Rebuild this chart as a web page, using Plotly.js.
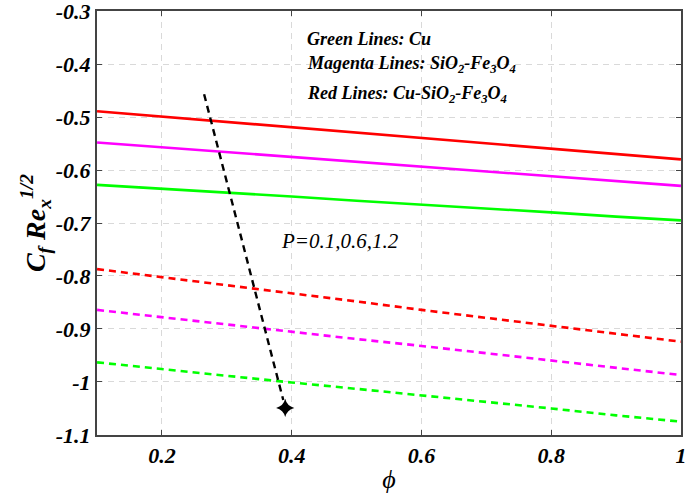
<!DOCTYPE html>
<html><head><meta charset="utf-8">
<script src="https://cdn.plot.ly/plotly-3.0.1.min.js"></script>
<style>html,body{margin:0;padding:0;background:#fff}#chart{width:685px;height:495px}</style>
</head><body><div id="chart"></div>
<script>
const phi = [0.1, 0.2, 0.3, 0.4, 0.5, 0.6, 0.7, 0.8, 0.9, 1.0];
// Solid lines (lowest P)
const redSolid     = [-0.489, -0.499, -0.509, -0.519, -0.529, -0.539, -0.549, -0.559, -0.569, -0.580];
const magentaSolid = [-0.548, -0.557, -0.566, -0.575, -0.584, -0.593, -0.602, -0.611, -0.620, -0.630];
const greenSolid   = [-0.628, -0.635, -0.643, -0.650, -0.658, -0.665, -0.673, -0.680, -0.688, -0.695];
// Dashed lines (higher P)
const redDashed     = [-0.787, -0.802, -0.818, -0.833, -0.848, -0.864, -0.879, -0.894, -0.909, -0.924];
const magentaDashed = [-0.864, -0.878, -0.891, -0.905, -0.919, -0.932, -0.946, -0.960, -0.973, -0.987];
const greenDashed   = [-0.963, -0.976, -0.988, -1.001, -1.013, -1.025, -1.038, -1.050, -1.063, -1.075];
// Trend arrow for P
const arrowX = [0.265, 0.387];
const arrowY = [-0.457, -1.034];
const arrowHeadX = [0.39];
const arrowHeadY = [-1.049];
const xTicks = [0.2, 0.4, 0.6, 0.8, 1];
const xTickText = ['0.2', '0.4', '0.6', '0.8', '1'];
const yTicks = [-1.1, -1, -0.9, -0.8, -0.7, -0.6, -0.5, -0.4, -0.3];
const yTickText = ['-1.1', '-1', '-0.9', '-0.8', '-0.7', '-0.6', '-0.5', '-0.4', '-0.3'];

const serif = "'Liberation Serif', 'Times New Roman', serif";
function line(y, color, dash) {
  return {x: phi, y: y, mode: 'lines', line: {color: color, width: 2.6, dash: dash}, hoverinfo: 'skip', showlegend: false};
}
const traces = [
  line(redSolid, '#ff0000', 'solid'),
  line(magentaSolid, '#ff00ff', 'solid'),
  line(greenSolid, '#00ff00', 'solid'),
  line(redDashed, '#ff0000', '7px,5px'),
  line(magentaDashed, '#ff00ff', '7px,5px'),
  line(greenDashed, '#00ff00', '7px,5px'),
  {x: arrowX, y: arrowY, mode: 'lines', line: {color: '#000', width: 2.4, dash: '7px,5px'}, showlegend: false},
  {x: arrowHeadX, y: arrowHeadY, mode: 'markers', marker: {symbol: 'star-diamond', size: 13, color: '#000'}, showlegend: false}
];
const bi = s => '<b><i>' + s + '</i></b>';
const tickFont = {family: serif, size: 22, color: '#000', weight: 'bold', style: 'italic'};
const layout = {
  width: 685, height: 495,
  font: {family: serif},
  margin: {l: 97, r: 4, t: 11, b: 60},
  paper_bgcolor: '#fff', plot_bgcolor: '#fff',
  xaxis: {
    range: [0.0999, 1.0001], tickvals: xTicks, ticktext: xTickText.map(bi),
    ticklabeloverflow: 'allow',
    showline: true, mirror: 'ticks', linecolor: '#444', linewidth: 2,
    ticks: 'inside', ticklen: 5, tickcolor: '#444',
    showgrid: true, gridcolor: '#d9d9d9', griddash: '6px,5px', gridwidth: 1,
    zeroline: false, tickfont: tickFont,
    title: {text: '<i>ϕ</i>', font: {family: serif, size: 26, color: '#000'}, standoff: 2}
  },
  yaxis: {
    range: [-1.1001, -0.2999], tickvals: yTicks, ticktext: yTickText.map(bi),
    ticklabeloverflow: 'allow',
    showline: true, mirror: 'ticks', linecolor: '#444', linewidth: 2,
    ticks: 'inside', ticklen: 5, tickcolor: '#444',
    showgrid: true, gridcolor: '#d9d9d9', griddash: '6px,5px', gridwidth: 1,
    zeroline: false, tickfont: tickFont,
    title: {text: '<b><i>C<sub>f</sub> Re<sub>x</sub><sup>1/2</sup></i></b>', font: {family: serif, size: 28, color: '#000'}, standoff: 2}
  },
  annotations: [
    {xref: 'paper', yref: 'paper', x: 0.357, y: 0.933, xanchor: 'left', yanchor: 'middle', showarrow: false,
     text: bi('Green Lines: Cu'), font: {family: serif, size: 18, color: '#000'}},
    {xref: 'paper', yref: 'paper', x: 0.357, y: 0.874, xanchor: 'left', yanchor: 'middle', showarrow: false,
     text: bi('Magenta Lines: SiO<sub>2</sub>-Fe<sub>3</sub>O<sub>4</sub>'), font: {family: serif, size: 18, color: '#000'}},
    {xref: 'paper', yref: 'paper', x: 0.357, y: 0.803, xanchor: 'left', yanchor: 'middle', showarrow: false,
     text: bi('Red Lines: Cu-SiO<sub>2</sub>-Fe<sub>3</sub>O<sub>4</sub>'), font: {family: serif, size: 18, color: '#000'}},
    {xref: 'x', yref: 'y', x: 0.474, y: -0.734, xanchor: 'center', yanchor: 'middle', showarrow: false,
     text: '<i>P=0.1,0.6,1.2</i>', font: {family: serif, size: 21, color: '#000'}}
  ]
};
Plotly.newPlot('chart', traces, layout, {displayModeBar: false, staticPlot: true});
</script></body></html>
